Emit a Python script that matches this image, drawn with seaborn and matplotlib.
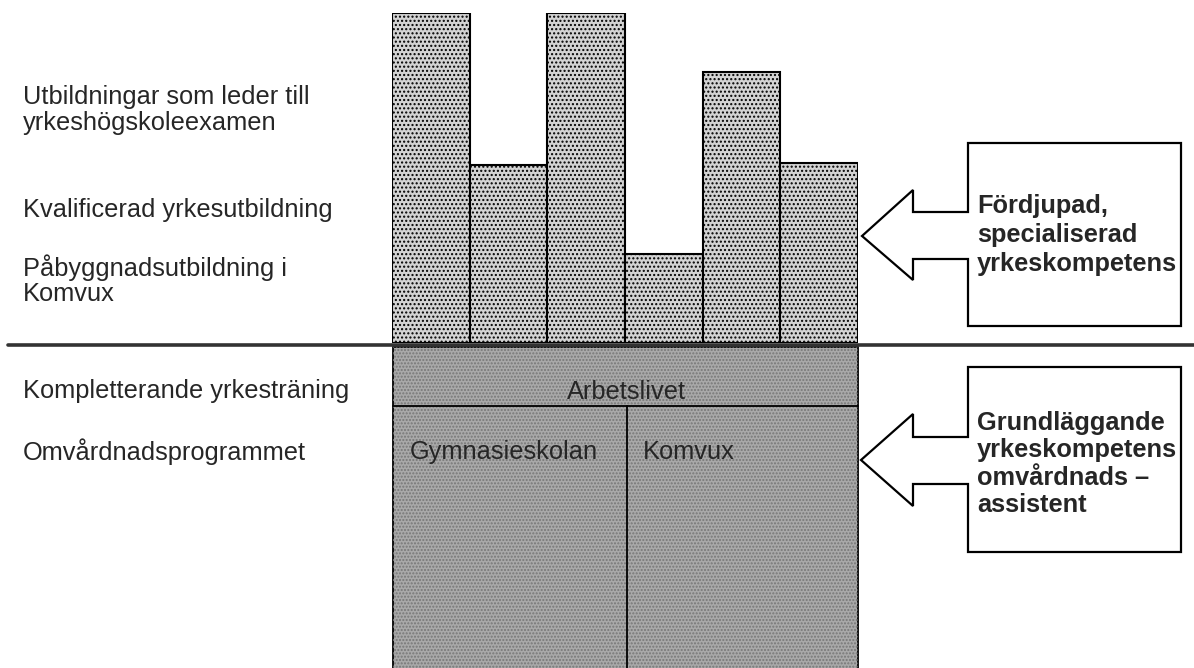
import matplotlib
matplotlib.use('Agg')
import matplotlib.pyplot as plt
from matplotlib.patches import Polygon, Rectangle
import seaborn as sns

# bar heights (upper level), relative to the tallest bar
bar_names = ['a', 'b', 'c', 'd', 'e', 'f']
bar_heights = [100, 54, 100, 27, 82, 54.5]

upper_labels = [
    'Utbildningar som leder till\nyrkeshögskoleexamen',
    'Kvalificerad yrkesutbildning',
    'Påbyggnadsutbildning i\nKomvux',
]
lower_labels = ['Kompletterande yrkesträning', 'Omvårdnadsprogrammet']
base_labels = ['Arbetslivet', 'Gymnasieskolan', 'Komvux']
upper_box = 'Fördjupad,\nspecialiserad\nyrkeskompetens'
lower_box = 'Grundläggande\nyrkeskompetens\nomvårdnads –\nassistent'

W, H = 1194, 668
LIGHT = '#d3d3d3'
DARK = '#a9a9a9'
FS = 18.3

sns.set_style('white')
plt.rcParams['font.family'] = ['Liberation Sans', 'DejaVu Sans']

fig = plt.figure(figsize=(W / 100, H / 100), dpi=100)

# overlay axes in pixel coordinates for the diagram parts
ov = fig.add_axes([0, 0, 1, 1])
ov.set_xlim(0, W)
ov.set_ylim(H, 0)
ov.axis('off')

# base block (dark)
ov.add_patch(Rectangle((393, 347), 465, 330, facecolor=DARK,
                       edgecolor='black', lw=1.3, zorder=1))
ov.add_patch(Rectangle((393, 347), 465, 330, facecolor='none',
                       edgecolor='#777777', lw=0, hatch='.....', zorder=1))
ov.plot([393, 858], [406, 406], color='black', lw=1.3, zorder=2)
ov.plot([627, 627], [406, 668], color='black', lw=1.3, zorder=2)
ov.text(627, 392, base_labels[0], ha='center', va='center', fontsize=FS, zorder=3)
ov.text(410, 452, base_labels[1], ha='left', va='center', fontsize=FS, zorder=3)
ov.text(643, 452, base_labels[2], ha='left', va='center', fontsize=FS, zorder=3)

# separator line
ov.plot([8, W], [345, 345], color='#333333', lw=2.6, zorder=4)

# left labels
ov.text(23, 110, upper_labels[0], ha='left', va='center', fontsize=FS, linespacing=1.06)
ov.text(23, 210, upper_labels[1], ha='left', va='center', fontsize=FS)
ov.text(23, 280, upper_labels[2], ha='left', va='center', fontsize=FS, linespacing=1.06)
ov.text(23, 391, lower_labels[0], ha='left', va='center', fontsize=FS)
ov.text(23, 452, lower_labels[1], ha='left', va='center', fontsize=FS)

# arrow + box shapes
up_pts = [(862, 236), (913, 190), (913, 212), (968, 212), (968, 143),
          (1181, 143), (1181, 326), (968, 326), (968, 259), (913, 259), (913, 280)]
lo_pts = [(861, 460), (913, 414), (913, 437), (968, 437), (968, 367),
          (1181, 367), (1181, 552), (968, 552), (968, 484), (913, 484), (913, 506)]
for pts in (up_pts, lo_pts):
    ov.add_patch(Polygon(pts, closed=True, facecolor='white',
                         edgecolor='black', lw=1.6, zorder=2))
ov.text(977, 235, upper_box, ha='left', va='center', fontsize=FS,
        fontweight='bold', linespacing=1.27, zorder=3)
ov.text(977, 464, lower_box, ha='left', va='center', fontsize=FS,
        fontweight='bold', linespacing=1.17, zorder=3)

# bar axes for the upper level
ax = fig.add_axes([392 / W, (H - 343) / H, 466 / W, 330 / H])
ax.patch.set_alpha(0)
sns.barplot(x=bar_names, y=bar_heights, ax=ax, width=1, color=LIGHT,
            saturation=1, edgecolor='black', linewidth=1.5)
for p in ax.patches:
    p.set_hatch('....')
ax.set_xlim(-0.5, 5.5)
ax.set_ylim(0, 100)
ax.axis('off')

fig.savefig('out.png', dpi=100)
